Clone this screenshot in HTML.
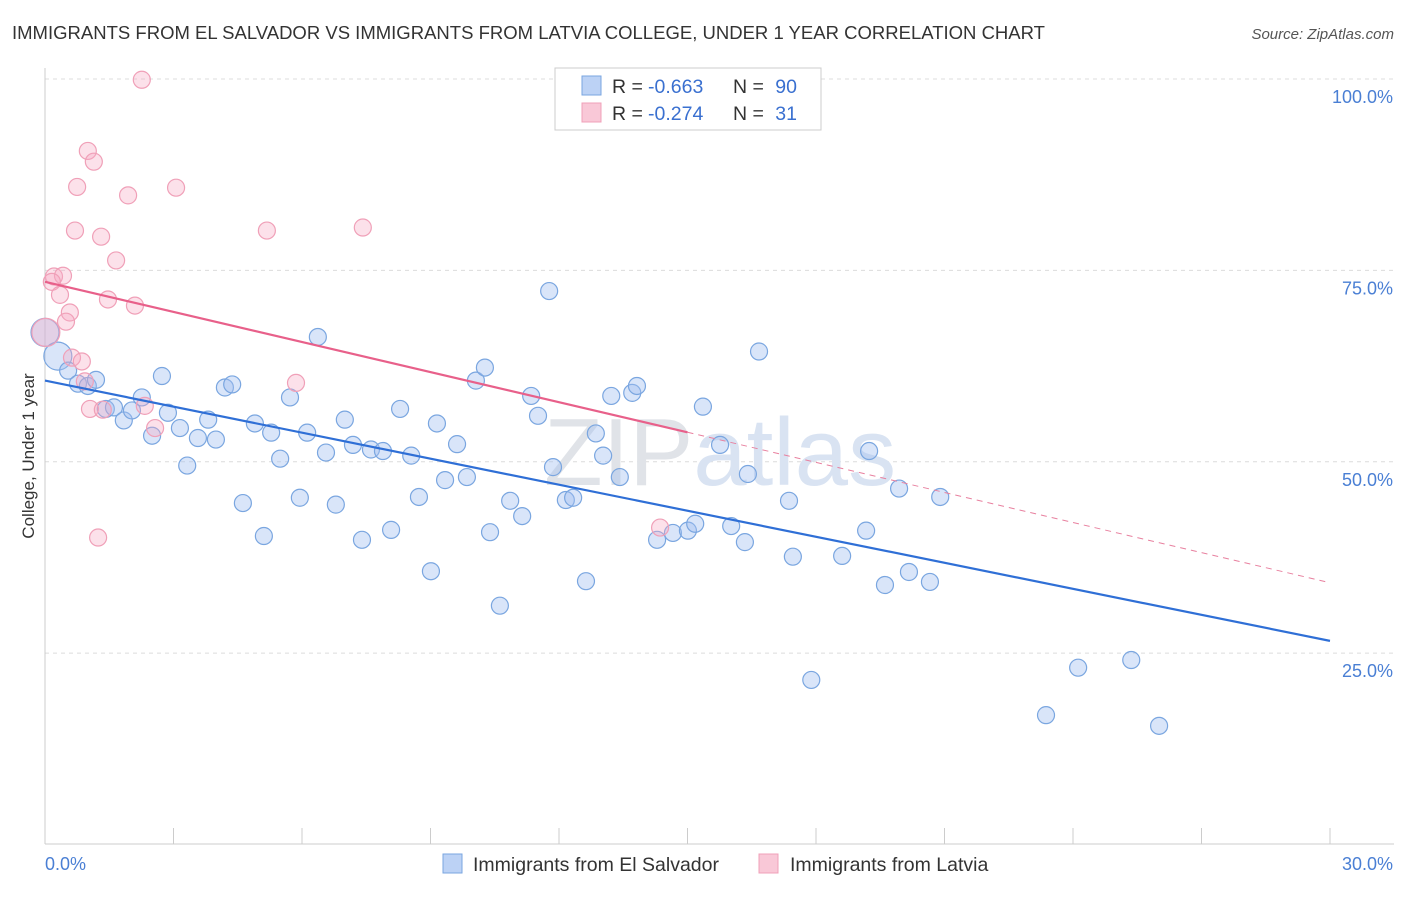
<!DOCTYPE html>
<html><head><meta charset="utf-8"><style>
body{margin:0;background:#fff;font-family:"Liberation Sans",sans-serif;}
svg text{font-family:"Liberation Sans",sans-serif;}
</style></head><body>
<svg id="chart" width="1406" height="892" viewBox="0 0 1406 892" xmlns="http://www.w3.org/2000/svg">
<text x="12" y="39" font-size="18.5" fill="#333" textLength="1033" lengthAdjust="spacingAndGlyphs">IMMIGRANTS FROM EL SALVADOR VS IMMIGRANTS FROM LATVIA COLLEGE, UNDER 1 YEAR CORRELATION CHART</text>
<text x="1394" y="39" font-size="15" fill="#555" font-style="italic" text-anchor="end">Source: ZipAtlas.com</text>
<g id="grid"></g>
<text x="720" y="485" font-size="96" fill="#e3e6eb" text-anchor="middle" font-family="Liberation Serif"><tspan fill="#e0e3e8">ZIP</tspan><tspan font-family="Liberation Sans" fill="#d9e3f2">atlas</tspan></text>
<g id="axes"></g>
<g id="pts"></g>
<g id="lines"></g>
<text x="34" y="456" font-size="17" fill="#333" text-anchor="middle" transform="rotate(-90 34 456)">College, Under 1 year</text>
<g>
<rect x="555" y="68" width="266" height="62" fill="#fff" stroke="#ccc"/>
<rect x="582" y="76" width="19" height="19" fill="#bcd2f5" stroke="#7aa6e0"/>
<rect x="582" y="103" width="19" height="19" fill="#f9c8d7" stroke="#f0a0b8"/>
<text x="612" y="93" font-size="19.5" fill="#333">R =</text>
<text x="648" y="93" font-size="19.5" fill="#3a70d0">-0.663</text>
<text x="733" y="93" font-size="19.5" fill="#333">N =</text>
<text x="797" y="93" font-size="19.5" fill="#3a70d0" text-anchor="end">90</text>
<text x="612" y="120" font-size="19.5" fill="#333">R =</text>
<text x="648" y="120" font-size="19.5" fill="#3a70d0">-0.274</text>
<text x="733" y="120" font-size="19.5" fill="#333">N =</text>
<text x="797" y="120" font-size="19.5" fill="#3a70d0" text-anchor="end">31</text>
</g>
<g>
<rect x="443" y="854" width="19" height="19" fill="#bcd2f5" stroke="#7aa6e0"/>
<text x="473" y="871" font-size="19.5" fill="#333">Immigrants from El Salvador</text>
<rect x="759" y="854" width="19" height="19" fill="#f9c8d7" stroke="#f0a0b8"/>
<text x="790" y="871" font-size="19.5" fill="#333">Immigrants from Latvia</text>
</g>
</svg>
<script>
const yTicks=[25,50,75,100];
const yTickLabels=["25.0%","50.0%","75.0%","100.0%"];
const xTicks=[0,3,6,9,12,15,18,21,24,27,30];
const blueX=[0,0.3,0.54,0.77,1.0,1.19,1.42,1.61,1.84,2.03,2.26,2.5,2.73,2.87,3.15,3.32,3.57,3.81,3.99,4.2,4.37,4.62,4.9,5.11,5.28,5.49,5.72,5.95,6.12,6.37,6.56,6.79,7.0,7.19,7.4,7.61,7.89,8.08,8.29,8.55,8.73,9.01,9.15,9.34,9.62,9.85,10.06,10.27,10.39,10.62,10.86,11.14,11.35,11.51,11.77,11.86,12.16,12.33,12.63,12.86,13.03,13.22,13.42,13.71,13.82,14.29,14.66,15.01,15.18,15.36,15.76,16.02,16.34,16.41,16.67,17.37,17.46,17.89,18.61,19.17,19.24,19.61,19.94,20.17,20.66,20.9,23.37,24.12,25.36,26.01];
const blueY=[66.9,63.8,61.9,60.2,59.9,60.7,56.9,57.1,55.4,56.7,58.4,53.4,61.2,56.4,54.4,49.5,53.1,55.5,52.9,59.7,60.1,44.6,55.0,40.3,53.8,50.4,58.4,45.3,53.8,66.3,51.2,44.4,55.5,52.2,39.8,51.6,51.4,41.1,56.9,50.8,45.4,35.7,55.0,47.6,52.3,48.0,60.6,62.3,40.8,31.2,44.9,42.9,58.6,56.0,72.3,49.3,45.0,45.3,34.4,53.7,50.8,58.6,48.0,59.0,59.9,39.8,40.7,41.0,41.9,57.2,52.2,41.6,39.5,48.4,64.4,44.9,37.6,21.5,37.7,41.0,51.4,33.9,46.5,35.6,34.3,45.4,16.9,23.1,24.1,15.5];
const blueBig=[0,1];
const pinkX=[2.26,1.0,1.14,0.75,3.06,1.94,0.7,1.31,5.18,7.42,1.66,0.21,0.42,0.16,0.35,1.47,2.1,0.58,0.49,0.02,0.63,0.86,5.86,0.93,1.05,1.35,2.33,2.57,14.36,1.24];
const pinkY=[99.9,90.6,89.2,85.9,85.8,84.8,80.2,79.4,80.2,80.6,76.3,74.2,74.3,73.5,71.8,71.2,70.4,69.5,68.3,66.9,63.6,63.1,60.3,60.5,56.9,56.8,57.3,54.4,41.4,40.1];
const pinkBig=[19];
const blueTrend=[60.6,26.6];
const pinkTrend=[73.5,34.2];
const pinkSolidEnd=15.0;

const NS="http://www.w3.org/2000/svg";
const X0=45,X1=1330,YB=844.5,YT=79;
const sx=v=>X0+(v/30)*(X1-X0);
const sy=v=>YB-(v/100)*(YB-YT);
function mk(tag,attrs,parent){const e=document.createElementNS(NS,tag);for(const k in attrs)e.setAttribute(k,attrs[k]);parent.appendChild(e);return e;}
const grid=document.getElementById('grid'),axes=document.getElementById('axes'),pts=document.getElementById('pts'),lines=document.getElementById('lines');
yTicks.forEach((t,i)=>{
  const l=mk('line',{x1:X0,x2:1394,y1:sy(t),y2:sy(t),stroke:'#dcdcdc','stroke-dasharray':'4 4'},grid);
  
  
  const tx=mk('text',{x:1393,y:sy(t)+24,'font-size':18,fill:'#4a7fd4','text-anchor':'end'},axes);
  tx.textContent=yTickLabels[i];
  
  
});
mk('line',{x1:X0,x2:X0,y1:68,y2:844,stroke:'#ccc'},axes);
mk('line',{x1:X0,x2:1394,y1:844,y2:844,stroke:'#ccc'},axes);
xTicks.forEach(t=>{
  const l=mk('line',{x1:sx(t),x2:sx(t),y1:828,y2:844,stroke:'#ccc'},axes);
  
  
});
let a=mk('text',{x:45,y:870,'font-size':18,fill:'#4a7fd4'},axes);a.textContent='0.0%';


a=mk('text',{x:1393,y:870,'font-size':18,fill:'#4a7fd4','text-anchor':'end'},axes);a.textContent='30.0%';



blueX.forEach((x,i)=>{
  const c=mk('circle',{cx:sx(x),cy:sy(blueY[i]),r:blueBig.includes(i)?14:8.5,fill:'rgba(160,190,240,0.4)',stroke:'#7aa6e0','stroke-width':1.2},pts);
  
  
});
pinkX.forEach((x,i)=>{
  const c=mk('circle',{cx:sx(x),cy:sy(pinkY[i]),r:pinkBig.includes(i)?14:8.5,fill:'rgba(245,170,195,0.35)',stroke:'#f0a0b8','stroke-width':1.2},pts);
  
  
});
let l=mk('line',{x1:sx(0),y1:sy(blueTrend[0]),x2:sx(30),y2:sy(blueTrend[1]),stroke:'#2f6fd6','stroke-width':2.2},lines);


const pm=(pinkTrend[1]-pinkTrend[0])/30, py=x=>pinkTrend[0]+pm*x;
l=mk('line',{x1:sx(0),y1:sy(py(0)),x2:sx(pinkSolidEnd),y2:sy(py(pinkSolidEnd)),stroke:'#e8608a','stroke-width':2.2},lines);


l=mk('line',{x1:sx(pinkSolidEnd),y1:sy(py(pinkSolidEnd)),x2:sx(30),y2:sy(py(30)),stroke:'#e8809f','stroke-width':1,'stroke-dasharray':'6 5'},lines);


</script>
</body></html>
